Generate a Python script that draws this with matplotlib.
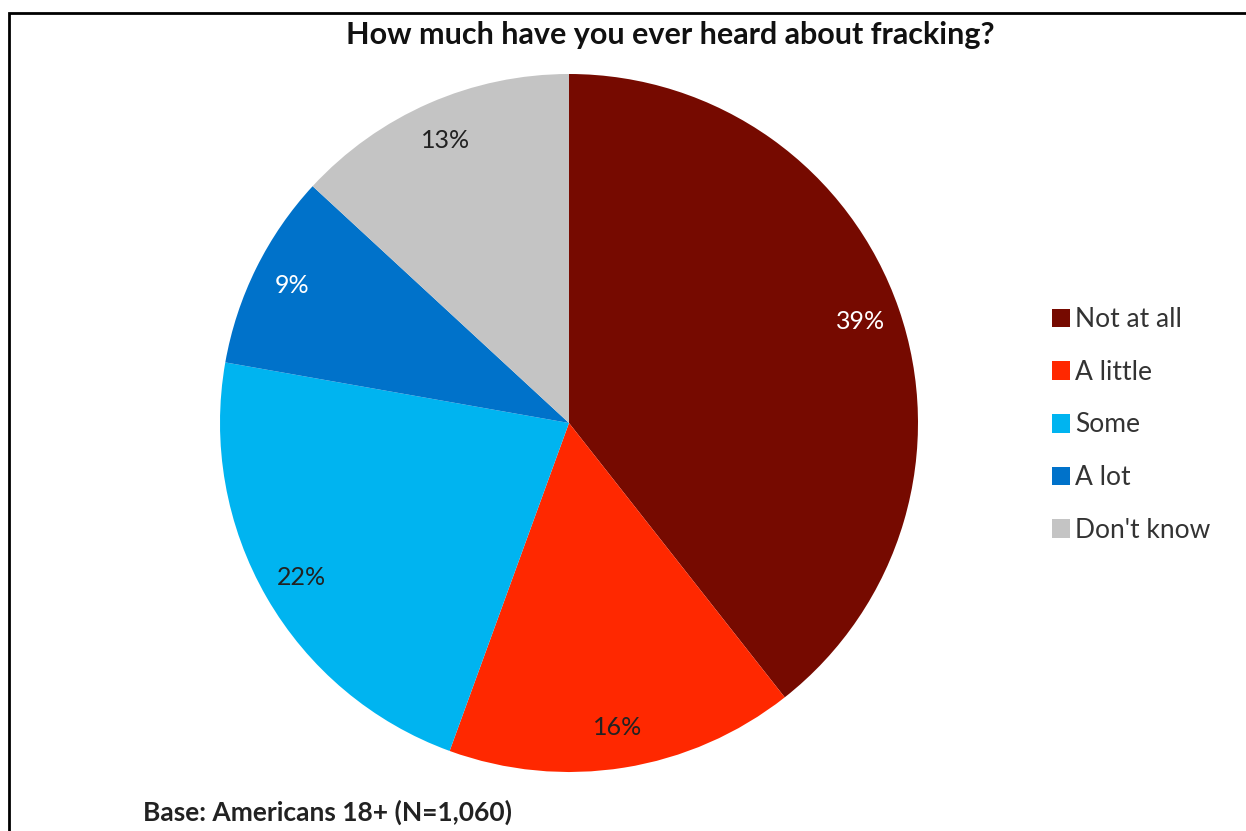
import matplotlib.pyplot as plt
from matplotlib.patches import Rectangle

plt.rcParams['font.family'] = ['Lato', 'DejaVu Sans']

# Survey answers (share of respondents, %)
categories = ['Not at all', 'A little', 'Some', 'A lot', "Don't know"]
shares = [39, 16, 22, 9, 13]
colors = ['#760A00', '#FF2800', '#00B4F0', '#0072CA', '#C4C4C4']
label_colors = ['white', '#222222', '#222222', 'white', '#222222']

fig_w, fig_h = 1246, 831
fig = plt.figure(figsize=(fig_w / 100, fig_h / 100), dpi=100)

# Outer chart border (cut off at right and bottom in the original)
fig.add_artist(Rectangle((8.5 / fig_w, -0.01), 1.1, 1 - 12.5 / fig_h + 0.01,
                         transform=fig.transFigure, fill=False,
                         edgecolor='black', linewidth=2))

# Pie placed by its centre and radius in pixels
cx, cy, r = 569, 423, 349
ax = fig.add_axes([(cx - r) / fig_w, (fig_h - cy - r) / fig_h,
                   2 * r / fig_w, 2 * r / fig_h])
wedges, texts, autotexts = ax.pie(
    shares, colors=colors, startangle=90, counterclock=False,
    autopct='%1.0f%%', pctdistance=0.885,
    wedgeprops=dict(linewidth=0),
    textprops=dict(fontsize=18))
for t, c in zip(autotexts, label_colors):
    t.set_color(c)
ax.set_xlim(-1, 1)
ax.set_ylim(-1, 1)
ax.set_aspect('equal')
ax.axis('off')

fig.text(670 / fig_w, 1 - 35 / fig_h, 'How much have you ever heard about fracking?',
         ha='center', va='center', fontsize=22, fontweight='bold', color='#111111')

leg = fig.legend(wedges, categories, loc='center left',
                 bbox_to_anchor=(1041 / fig_w, 1 - 425 / fig_h),
                 frameon=False, fontsize=19, handlelength=0.7, handleheight=0.7,
                 handletextpad=0.2, labelspacing=1.05, borderaxespad=0)
for t in leg.get_texts():
    t.set_color('#333333')

fig.text(143 / fig_w, 1 - 812 / fig_h, 'Base: Americans 18+ (N=1,060)',
         ha='left', va='center', fontsize=19, fontweight='bold', color='#222222')

fig.savefig('out.png', dpi=100)
